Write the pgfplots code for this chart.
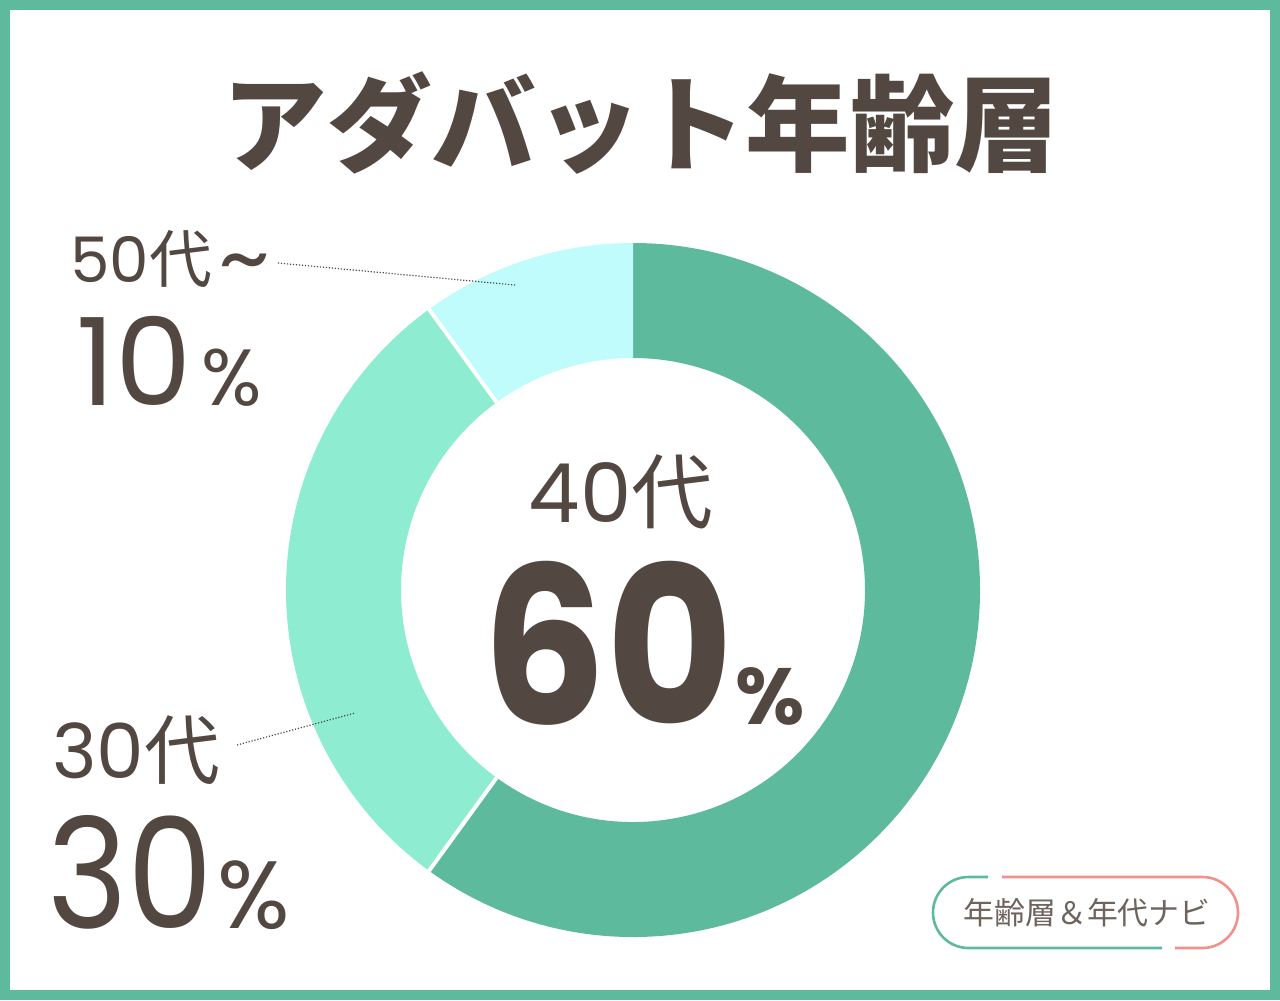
\documentclass[border=0pt]{standalone}
\usepackage{pgfplots}
\usepackage{pgfplotstable}
\pgfplotsset{compat=1.18}
\usepackage{fontspec}
\setmainfont{Poppins}
\newfontfamily\cjk{Noto Sans CJK JP}
\newfontfamily\pop{Poppins}

\definecolor{framegreen}{HTML}{5DBA9D}
\definecolor{c40}{HTML}{5DBA9D}
\definecolor{c30}{HTML}{8EEDD0}
\definecolor{c50}{HTML}{C0FCFC}
\definecolor{ink}{HTML}{534741}
\definecolor{badgeink}{HTML}{6E635D}
\definecolor{badgepink}{HTML}{F0918C}

% share of each age group (percent)
\pgfplotstableread{
group value
40 60
30 30
50 10
}\agedata
\pgfplotstablegetelem{0}{value}\of\agedata \let\vA\pgfplotsretval
\pgfplotstablegetelem{1}{value}\of\agedata \let\vB\pgfplotsretval
\pgfplotstablegetelem{2}{value}\of\agedata \let\vC\pgfplotsretval

% slice boundaries, clockwise from the top
\pgfmathsetmacro\aA{90}
\pgfmathsetmacro\aB{\aA-3.6*\vA}
\pgfmathsetmacro\aC{\aB-3.6*\vB}
\pgfmathsetmacro\aD{\aC-3.6*\vC}

\def\Ro{173.5bp}
\def\Ri{116bp}
\newcommand\narrow[2][0.89]{\scalebox{#1}[1]{#2}}

\begin{document}
\begin{tikzpicture}
\begin{axis}[
    x=0.5bp, y=0.5bp, y dir=reverse,
    xmin=0, xmax=1280, ymin=0, ymax=1000,
    scale only axis, axis lines=none, ticks=none, clip=false,
]
% frame
\draw[framegreen, line width=5bp] (axis cs:5,5) rectangle (axis cs:1275,995);

% donut
\fill[c40] ([shift={(\aA:\Ro)}]axis cs:633,590) arc[start angle=\aA, end angle=\aB, radius=\Ro]
   -- ([shift={(\aB:\Ri)}]axis cs:633,590) arc[start angle=\aB, end angle=\aA, radius=\Ri] -- cycle;
\fill[c30] ([shift={(\aB:\Ro)}]axis cs:633,590) arc[start angle=\aB, end angle=\aC, radius=\Ro]
   -- ([shift={(\aC:\Ri)}]axis cs:633,590) arc[start angle=\aC, end angle=\aB, radius=\Ri] -- cycle;
\fill[c50] ([shift={(\aC:\Ro)}]axis cs:633,590) arc[start angle=\aC, end angle=\aD, radius=\Ro]
   -- ([shift={(\aD:\Ri)}]axis cs:633,590) arc[start angle=\aD, end angle=\aC, radius=\Ri] -- cycle;
\draw[white, line width=2bp] ([shift={(\aB:\Ri)}]axis cs:633,590) -- ([shift={(\aB:\Ro)}]axis cs:633,590);
\draw[white, line width=2bp] ([shift={(\aC:\Ri)}]axis cs:633,590) -- ([shift={(\aC:\Ro)}]axis cs:633,590);

% title
\node[ink, anchor=base, inner sep=0] at (axis cs:641,163)
  {\cjk\bfseries\fontsize{52.5}{52.5}\selectfont アダバット年齢層};

% leader lines
\draw[ink, line width=0.6bp, dash pattern=on 0.6bp off 0.9bp] (axis cs:278,263) -- (axis cs:515,285);
\draw[ink, line width=0.6bp, dash pattern=on 0.6bp off 0.9bp] (axis cs:237,745) -- (axis cs:355,713);

% labels
\node[ink, anchor=base west, inner sep=0] at (axis cs:70,282)
  {\fontsize{31.5}{31.5}\selectfont\pop 50\cjk 代\hspace{3bp}\pop\raisebox{-3bp}{\scalebox{1.6}[1.4]{\textasciitilde}}};
\node[ink, anchor=base west, inner sep=0] at (axis cs:76,405)
  {\pop\fontsize{61}{61}\selectfont 10\hspace{5bp}\fontsize{40}{40}\selectfont\%};
\node[ink, anchor=base west, inner sep=0] at (axis cs:52,778)
  {\fontsize{38}{38}\selectfont\pop 30\cjk 代};
\node[ink, anchor=base west, inner sep=0] at (axis cs:47,928)
  {\pop\fontsize{77}{77}\selectfont\narrow{30}\hspace{2bp}\fontsize{48}{48}\selectfont\%};
\node[ink, anchor=base, inner sep=0] at (axis cs:621,522)
  {\fontsize{41}{41}\selectfont\pop 40\cjk 代};
\node[ink, anchor=base west, inner sep=0] at (axis cs:482,724)
  {\pop\bfseries\fontsize{110}{110}\selectfont\narrow{60}\hspace{1bp}\fontsize{40}{40}\selectfont\%};

% badge
\draw[framegreen, line width=1.3bp] (axis cs:988,877) -- (axis cs:968.5,877)
   arc[start angle=90, end angle=270, radius=17.75bp] -- (axis cs:1162,948);
\draw[badgepink, line width=1.3bp] (axis cs:1002,877) -- (axis cs:1202.5,877)
   arc[start angle=90, end angle=-90, radius=17.75bp] -- (axis cs:1175,948);
\node[badgeink, anchor=center, inner sep=0] at (axis cs:1087,913)
  {\cjk\fontsize{15.5}{15.5}\selectfont 年齢層＆年代ナビ};
\end{axis}
\end{tikzpicture}
\end{document}
